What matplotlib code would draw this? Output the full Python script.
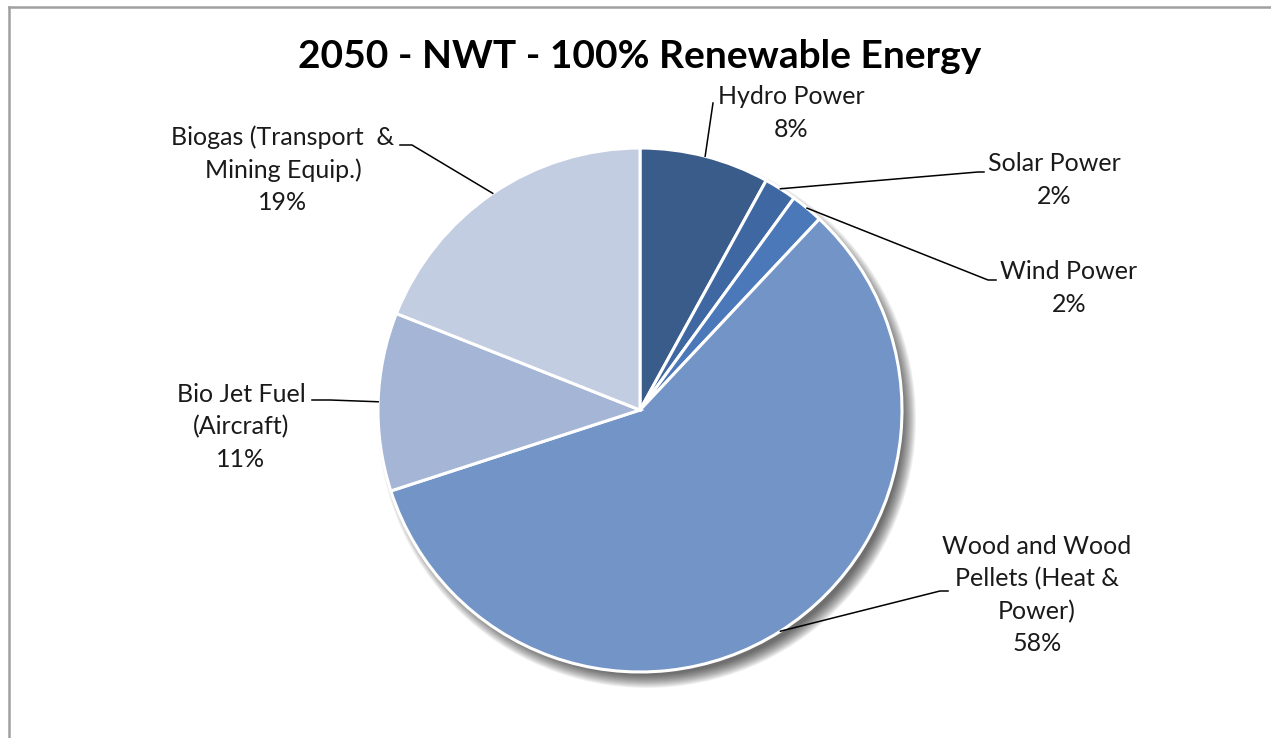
import numpy as np
import matplotlib.pyplot as plt
from matplotlib.patches import Circle

# data
labels = ['Hydro Power\n8%', 'Solar Power\n2%', 'Wind Power\n2%',
          'Wood and Wood\nPellets (Heat &\nPower)\n58%',
          'Bio Jet Fuel\n(Aircraft)\n11%',
          'Biogas (Transport  &\nMining Equip.)\n19%']
shares = [8, 2, 2, 58, 11, 19]
colors = ['#3a5c8b', '#3f68a2', '#4a78b8', '#7394c6', '#a4b5d5', '#c3cde1']

W, H = 1271, 738
fig = plt.figure(figsize=(W / 100, H / 100), dpi=100)
ax = fig.add_axes([0, 0, 1, 1])
ax.set_xlim(0, W)
ax.set_ylim(0, H)
ax.set_aspect('equal')
ax.axis('off')

def py(y):
    return H - y

cx, cy, R = 640, py(410), 262

# soft shadow to the lower right
for i in range(14):
    ax.add_patch(Circle((cx + 7, cy - 9), R + 7 - i, color='black',
                        alpha=0.055, lw=0, zorder=1))

wedges, _ = ax.pie(shares, colors=colors, startangle=90, counterclock=False,
                   center=(cx, cy), radius=R, frame=True,
                   wedgeprops=dict(edgecolor='white', linewidth=2.2))
for w in wedges:
    w.set_zorder(2)
ax.set_xlim(0, W)
ax.set_ylim(0, H)
ax.axis('off')

# label text centres and leader line bends (pixels, layout only)
text_pos = [(791, 113), (1054, 180), (1069, 288), (1037, 595), (241, 427), (283, 170)]
bends = [[(713, 103)],
         [(978, 172), (984, 172)],
         [(988, 280), (996, 280)],
         [(940, 591), (948, 591)],
         [(330, 400), (312, 400)],
         [(412, 145), (400, 145)]]

for w, lab, (tx, ty), pts in zip(wedges, labels, text_pos, bends):
    mid = np.deg2rad((w.theta1 + w.theta2) / 2)
    ex, ey = cx + R * np.cos(mid), cy + R * np.sin(mid)
    xs = [ex] + [p[0] for p in pts]
    ys = [ey] + [py(p[1]) for p in pts]
    ax.plot(xs, ys, color='black', lw=1.1, zorder=3)
    ax.text(tx, py(ty), lab, ha='center', va='center', fontsize=18,
            family='Lato', linespacing=1.48, color='#1a1a1a', zorder=4)

ax.text(640, py(57), '2050 - NWT - 100% Renewable Energy', ha='center',
        va='center', fontsize=28, fontweight='bold', family='Lato', color='black')

# chart frame (only top and left edges visible)
ax.plot([8.5, W], [py(6.5), py(6.5)], color='#a0a0a0', lw=1.8, clip_on=False)
ax.plot([8.5, 8.5], [py(6.5), 0], color='#a0a0a0', lw=1.8, clip_on=False)

fig.savefig('out.png', dpi=100)
